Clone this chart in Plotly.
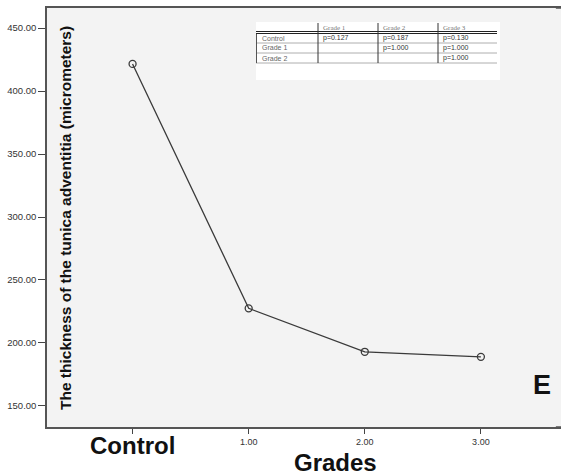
import plotly.graph_objects as go

# ---- data ----
grades = [0, 1, 2, 3]
grade_labels = ["Control", "1.00", "2.00", "3.00"]
thickness = [421.5, 227.5, 193.0, 189.0]
y_ticks = [150, 200, 250, 300, 350, 400, 450]
y_tick_labels = ["150.00", "200.00", "250.00", "300.00", "350.00", "400.00", "450.00"]

table_cols = ["Grade 1", "Grade 2", "Grade 3"]
table_rows = ["Control", "Grade 1", "Grade 2"]
table_vals = [["p=0.127", "p=0.187", "p=0.130"],
              ["", "p=1.000", "p=1.000"],
              ["", "", "p=1.000"]]

W, H = 561, 475
L, R, T, B = 47, 0, 8, 48
PW, PH = W - L - R, H - T - B


def px(x):
    return (x - L) / PW


def py(y):
    return (H - B - y) / PH


fig = go.Figure()
fig.add_trace(go.Scatter(
    x=grades, y=thickness, mode="lines+markers",
    line=dict(color="#3a3a3a", width=1.3),
    marker=dict(symbol="circle-open", size=7, color="#3a3a3a",
                line=dict(width=1.3, color="#3a3a3a")),
    showlegend=False, hoverinfo="skip"))

shapes = []
annotations = []

# extend plot frame to the right edge of the picture
shapes.append(dict(type="rect", xref="paper", yref="paper", x0=0.99, x1=1.05, y0=0, y1=1,
                   fillcolor="#f3f3f3", line=dict(width=0), layer="below"))
for yy in (0, 1):
    shapes.append(dict(type="line", xref="paper", yref="paper", x0=0.99, x1=1.05, y0=yy, y1=yy,
                       line=dict(color="#555", width=1.5), layer="above"))

# table inset
tx0, tx1, ty0, ty1 = 256, 500, 22, 80
shapes.append(dict(type="rect", xref="paper", yref="paper",
                   x0=px(tx0), x1=px(tx1), y0=py(ty1), y1=py(ty0),
                   fillcolor="white", line=dict(width=0), layer="above"))
col_x = [256, 318, 378, 438, 497]
row_y = [27.5, 38, 48, 58]
line_y = [33, 43, 53, 63]
for yy, w in [(31.5, 1.2), (33.5, 1.2)]:
    shapes.append(dict(type="line", xref="paper", yref="paper",
                       x0=px(col_x[0]), x1=px(col_x[-1]), y0=py(yy), y1=py(yy),
                       line=dict(color="#222", width=w), layer="above"))
for yy in line_y[1:]:
    shapes.append(dict(type="line", xref="paper", yref="paper",
                       x0=px(col_x[0]), x1=px(col_x[-1]), y0=py(yy), y1=py(yy),
                       line=dict(color="#999", width=0.8), layer="above"))
for xx in col_x[1:-1]:
    shapes.append(dict(type="line", xref="paper", yref="paper",
                       x0=px(xx), x1=px(xx), y0=py(63), y1=py(23),
                       line=dict(color="#333", width=1), layer="above"))
shapes.append(dict(type="line", xref="paper", yref="paper",
                   x0=px(256.5), x1=px(256.5), y0=py(63), y1=py(34),
                   line=dict(color="#555", width=1), layer="above"))

for j, c in enumerate(table_cols):
    annotations.append(dict(x=px(col_x[j + 1] + 3), y=py(row_y[0]), xref="paper", yref="paper",
                            text=c, showarrow=False, xanchor="left", yanchor="middle",
                            font=dict(family="Liberation Serif", size=7, color="#777")))
for i, r in enumerate(table_rows):
    annotations.append(dict(x=px(col_x[0] + 4), y=py(row_y[i + 1]), xref="paper", yref="paper",
                            text=r, showarrow=False, xanchor="left", yanchor="middle",
                            font=dict(family="Liberation Sans", size=7, color="#666")))
    for j, v in enumerate(table_vals[i]):
        if v:
            annotations.append(dict(x=px(col_x[j + 1] + 3), y=py(row_y[i + 1]), xref="paper",
                                    yref="paper", text=v, showarrow=False, xanchor="left",
                                    yanchor="middle", font=dict(family="Liberation Sans",
                                                                size=7, color="#333")))

# big labels
annotations.append(dict(x=grades[0], y=py(445), xref="x", yref="paper", text="<b>Control</b>",
                        showarrow=False, xanchor="center", yanchor="middle",
                        font=dict(family="Liberation Sans", size=24, color="#111")))
annotations.append(dict(x=px(335), y=py(462), xref="paper", yref="paper", text="<b>Grades</b>",
                        showarrow=False, xanchor="center", yanchor="middle",
                        font=dict(family="Liberation Sans", size=24, color="#111")))
annotations.append(dict(x=px(542), y=py(385), xref="paper", yref="paper", text="<b>E</b>",
                        showarrow=False, xanchor="center", yanchor="middle",
                        font=dict(family="Liberation Sans", size=27, color="#111")))
annotations.append(dict(x=px(65), y=py(218), xref="paper", yref="paper",
                        text="<b>The thickness of the tunica adventitia (micrometers)</b>",
                        textangle=-90, showarrow=False, xanchor="center", yanchor="middle",
                        font=dict(family="Liberation Sans", size=15.5, color="#111")))

fig.update_layout(
    width=W, height=H, margin=dict(l=L, r=R, t=T, b=B),
    paper_bgcolor="white", plot_bgcolor="#f3f3f3",
    shapes=shapes, annotations=annotations,
    xaxis=dict(range=[-0.737, 3.69], tickvals=grades,
               ticktext=[""] + grade_labels[1:], ticks="outside", ticklen=5,
               tickcolor="#444", showgrid=False, zeroline=False,
               showline=True, linecolor="#555", linewidth=1.5, mirror=True,
               tickfont=dict(family="Liberation Sans", size=9, color="#333")),
    yaxis=dict(range=[133.3, 465.9], tickvals=y_ticks, ticktext=y_tick_labels,
               ticks="outside", ticklen=7, tickcolor="#444", showgrid=False,
               zeroline=False, showline=True, linecolor="#555", linewidth=1.5, mirror=False,
               tickfont=dict(family="Liberation Sans", size=9.5, color="#333")),
)

fig.write_html("out.html")
